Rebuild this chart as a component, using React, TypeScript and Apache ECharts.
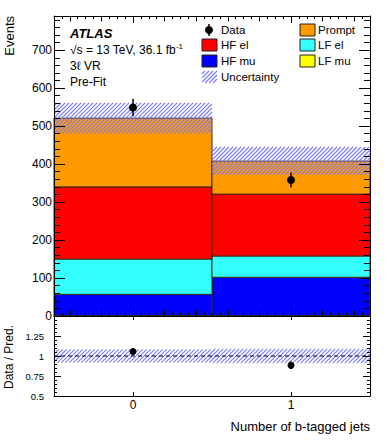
import React, { useEffect, useRef } from 'react';
import * as echarts from 'echarts';

// ---- data ----
const bins = [0, 1];
const lfMu = [1, 1];
const hfMu = [56, 101];
const lfEl = [93, 56];
const hfEl = [190, 163];
const prompt = [181, 87];
const uncertainty = [40, 37];
const dataValues = [549, 358];
const dataErrors = [23, 19];
const ratioValues = [1.056, 0.883];
const ratioErrors = [0.044, 0.047];
const ratioUncertainty = [0.083, 0.09];

// ---- tick positions / labels ----
const xTickLabels = [0, 1];
const xTicksMid = [-0.4, -0.2, 0, 0.2, 0.4, 0.6, 0.8, 1.0, 1.2, 1.4];
const xTicksFine: number[] = [];
for (let i = -10; i <= 30; i++) xTicksFine.push(Math.round(i * 5) / 100);

const components = [
  { name: 'LF mu', color: '#ffff00', values: lfMu },
  { name: 'HF mu', color: '#0000ff', values: hfMu },
  { name: 'LF el', color: '#33ffff', values: lfEl },
  { name: 'HF el', color: '#ff0000', values: hfEl },
  { name: 'Prompt', color: '#ff9900', values: prompt },
];

const FONT = '"Liberation Sans", Arial, Helvetica, sans-serif';
const HATCH = { stroke: '#7b7bff', lineWidth: 1.1 };

function hatchLines(x0: number, y0: number, x1: number, y1: number, step: number, style: any) {
  const out: any[] = [];
  const cStart = Math.ceil((x0 + y0) / step) * step;
  for (let c = cStart; c <= x1 + y1; c += step) {
    const xa = Math.max(x0, c - y1);
    const xb = Math.min(x1, c - y0);
    if (xb <= xa) continue;
    out.push({ type: 'line', shape: { x1: xa, y1: c - xa, x2: xb, y2: c - xb }, style: { ...style } });
  }
  return out;
}

function xAx(gridIndex: number, position: string, ticks: number[], length: number, extra: any = {}) {
  return {
    type: 'value', gridIndex, position, min: -0.5, max: 1.5, z: 5,
    axisLine: { show: false, onZero: false },
    axisTick: { show: true, inside: true, length, customValues: ticks, lineStyle: { color: '#000', width: 1 } },
    axisLabel: { show: false },
    splitLine: { show: false },
    ...extra,
  };
}

function buildOption() {
  const stackSeries = components.map((c, k) => {
    const rows = bins.map((b, i) => {
      let base = 0;
      for (let j = 0; j < k; j++) base += components[j].values[i];
      return [b, base, base + c.values[i]];
    });
    return {
      type: 'custom', name: c.name, xAxisIndex: 0, yAxisIndex: 0, z: 2,
      data: rows,
      renderItem: (params: any, api: any) => {
        const x = api.value(0), lo = api.value(1), hi = api.value(2);
        const a = api.coord([x - 0.5, hi]);
        const b = api.coord([x + 0.5, lo]);
        return {
          type: 'rect',
          shape: { x: a[0], y: a[1], width: b[0] - a[0], height: b[1] - a[1] },
          style: { fill: c.color, stroke: '#3b2a14', lineWidth: 1 },
        };
      },
    };
  });

  const totals = bins.map((_, i) => components.reduce((s, c) => s + c.values[i], 0));

  const bandRender = (params: any, api: any) => {
    const x = api.value(0), lo = api.value(1), hi = api.value(2);
    const a = api.coord([x - 0.5, hi]);
    const b = api.coord([x + 0.5, lo]);
    return { type: 'group', children: hatchLines(a[0], a[1], b[0], b[1], 4, HATCH) };
  };

  const pointRender = (r: number) => (params: any, api: any) => {
    const x = api.value(0), y = api.value(1), e = api.value(2);
    const p = api.coord([x, y]);
    const t = api.coord([x, y + e]);
    const bt = api.coord([x, y - e]);
    return {
      type: 'group',
      children: [
        { type: 'line', shape: { x1: p[0], y1: t[1], x2: p[0], y2: bt[1] }, style: { stroke: '#000', lineWidth: 1.5 } },
        { type: 'circle', shape: { cx: p[0], cy: p[1], r }, style: { fill: '#000' } },
      ],
    };
  };

  const series: any[] = [
    ...stackSeries,
    {
      type: 'custom', name: 'Uncertainty', xAxisIndex: 0, yAxisIndex: 0, z: 3, silent: true,
      data: bins.map((b, i) => [b, totals[i] - uncertainty[i], totals[i] + uncertainty[i]]),
      renderItem: bandRender,
    },
    {
      type: 'custom', name: 'Data', xAxisIndex: 0, yAxisIndex: 0, z: 4,
      data: bins.map((b, i) => [b, dataValues[i], dataErrors[i]]),
      renderItem: pointRender(4),
    },
    {
      type: 'custom', name: 'RatioBand', xAxisIndex: 6, yAxisIndex: 2, z: 3, silent: true,
      data: bins.map((b, i) => [b, 1 - ratioUncertainty[i], 1 + ratioUncertainty[i]]),
      renderItem: bandRender,
    },
    {
      type: 'line', xAxisIndex: 6, yAxisIndex: 2, z: 3, symbol: 'none', silent: true,
      data: [[-0.5, 1], [1.5, 1]],
      lineStyle: { color: '#000', width: 1, type: [4, 3] },
    },
    {
      type: 'custom', name: 'Ratio', xAxisIndex: 6, yAxisIndex: 2, z: 4,
      data: bins.map((b, i) => [b, ratioValues[i], ratioErrors[i]]),
      renderItem: pointRender(3.5),
    },
  ];

  const lineOn = { show: true, onZero: false, lineStyle: { color: '#000', width: 1 } };

  const xAxis = [
    xAx(0, 'bottom', xTicksFine, 3, { axisLine: lineOn }),
    xAx(0, 'bottom', xTicksMid, 6),
    xAx(0, 'bottom', xTickLabels, 8),
    xAx(0, 'top', xTicksFine, 3, { axisLine: lineOn }),
    xAx(0, 'top', xTicksMid, 5.5),
    xAx(0, 'top', xTickLabels, 7),
    xAx(1, 'bottom', xTickLabels, 4, {
      axisLine: lineOn,
      axisLabel: { show: true, customValues: xTickLabels, fontSize: 12, fontFamily: FONT, color: '#000', margin: 3 },
    }),
    xAx(1, 'top', xTickLabels, 4, { axisLine: lineOn }),
  ];

  const yMain = (position: string, labels: boolean) => ({
    type: 'value', gridIndex: 0, position, min: 0, max: 790, interval: 100, z: 5,
    axisLine: lineOn,
    axisTick: { show: true, inside: true, length: 11, lineStyle: { color: '#000' } },
    minorTick: { show: true, splitNumber: 5, length: 6, lineStyle: { color: '#000' } },
    axisLabel: {
      show: labels, fontSize: 12, fontFamily: FONT, color: '#000', margin: 2,
      formatter: (v: number) => (v % 100 === 0 ? String(v) : ''),
    },
    splitLine: { show: false },
  });
  const yRatio = (position: string, labels: boolean) => ({
    type: 'value', gridIndex: 1, position, min: 0.5, max: 1.5, interval: 0.25, z: 5,
    axisLine: lineOn,
    axisTick: { show: true, inside: true, length: 7, lineStyle: { color: '#000' } },
    minorTick: { show: true, splitNumber: 5, length: 3, lineStyle: { color: '#000' } },
    axisLabel: {
      show: labels, fontSize: 9.5, fontFamily: FONT, color: '#000', margin: 10,
      formatter: (v: number) => (v >= 1.5 ? '' : String(v)),
    },
    splitLine: { show: false },
  });

  const txt = (text: string, x: number, y: number, font: string, extra: any = {}) => ({
    type: 'text', x, y, z: 20,
    style: {
      text, font, fill: '#000',
      align: extra.align || 'left', textAlign: extra.align || 'left',
      verticalAlign: 'middle', textVerticalAlign: 'middle',
    },
    rotation: extra.rotation || 0,
  });

  const legendBox = (x: number, y: number, color: string) => ({
    type: 'rect', z: 20, shape: { x, y: y - 6, width: 15, height: 12 },
    style: { fill: color, stroke: '#222', lineWidth: 1 },
  });

  const legendFont = `11.5px ${FONT}`;
  const graphic: any[] = [
    txt('ATLAS', 70, 33, `italic bold 13px ${FONT}`),
    {
      type: 'text', x: 70, y: 50, z: 20,
      style: {
        text: '√s = 13 TeV, 36.1 fb{sup|-1}', font: `12px ${FONT}`, fill: '#000',
        verticalAlign: 'middle', textVerticalAlign: 'middle',
        rich: { sup: { fontSize: 8, fontFamily: FONT, fill: '#000', verticalAlign: 'top', padding: [0, 0, 7, 0] } },
      },
    },
    txt('3ℓ VR', 70, 66, `12px ${FONT}`),
    txt('Pre-Fit', 70, 82, `12px ${FONT}`),
    { type: 'line', z: 20, shape: { x1: 209, y1: 24, x2: 209, y2: 36 }, style: { stroke: '#000', lineWidth: 1.5 } },
    { type: 'circle', z: 20, shape: { cx: 209, cy: 30, r: 4 }, style: { fill: '#000' } },
    txt('Data', 221, 30, legendFont),
    legendBox(202, 45, '#ff0000'),
    txt('HF el', 221, 45, legendFont),
    legendBox(202, 61, '#0000ff'),
    txt('HF mu', 221, 61, legendFont),
    { type: 'group', z: 20, children: hatchLines(202, 71, 217, 83, 4, HATCH) },
    txt('Uncertainty', 221, 77, legendFont),
    legendBox(300, 30, '#ff9900'),
    txt('Prompt', 318, 30, legendFont),
    legendBox(300, 45, '#33ffff'),
    txt('LF el', 318, 45, legendFont),
    legendBox(300, 61, '#ffff00'),
    txt('LF mu', 318, 61, legendFont),
    txt('Events', 9, 16, `13px ${FONT}`, { align: 'right', rotation: Math.PI / 2 }),
    txt('Data / Pred.', 9, 357, `12px ${FONT}`, { align: 'center', rotation: Math.PI / 2 }),
    txt('Number of b-tagged jets', 370, 426, `13px ${FONT}`, { align: 'right' }),
  ];

  return {
    animation: false,
    backgroundColor: '#fff',
    textStyle: { fontFamily: FONT },
    grid: [
      { left: 54, top: 16, width: 316, height: 300, containLabel: false },
      { left: 54, top: 316, width: 316, height: 80, containLabel: false },
    ],
    xAxis,
    yAxis: [yMain('left', true), yMain('right', false), yRatio('left', true), yRatio('right', false)],
    series,
    graphic,
  };
}

export default function App() {
  const ref = useRef<HTMLDivElement>(null);
  useEffect(() => {
    document.body.style.margin = '0';
    if (!ref.current) return;
    const chart = echarts.init(ref.current, undefined, { renderer: 'svg' });
    chart.setOption(buildOption() as any);
    return () => chart.dispose();
  }, []);
  return <div ref={ref} style={{ width: 390, height: 441 }} />;
}
